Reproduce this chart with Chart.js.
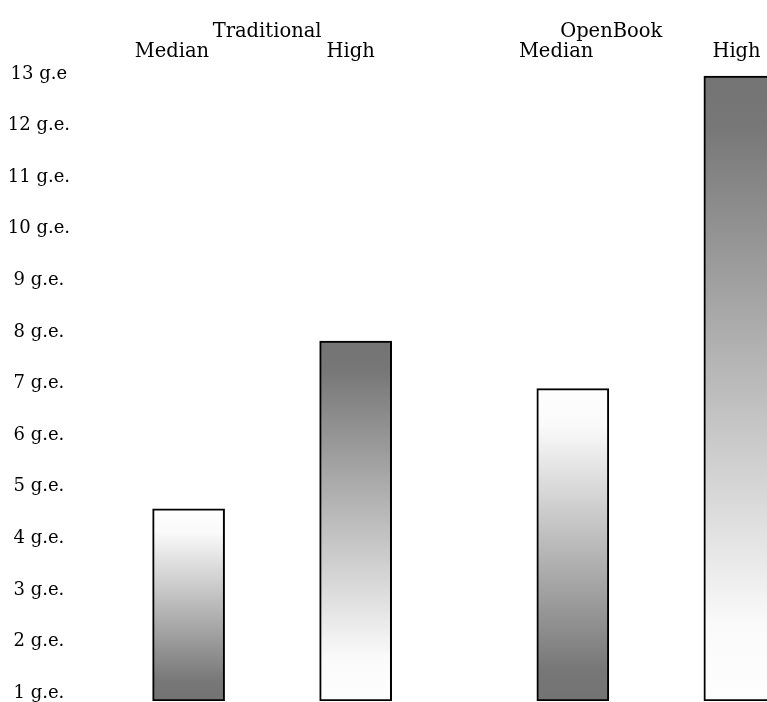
<!DOCTYPE html>
<html>
<head>
<meta charset="utf-8">
<title>Grade equivalents</title>
<script src="https://cdn.jsdelivr.net/npm/chart.js@4/dist/chart.umd.min.js"></script>
<style>
  html, body { margin: 0; padding: 0; background: #fff; overflow: hidden; }
  #wrap { width: 800px; height: 702px; }
</style>
</head>
<body>
<div id="wrap"><canvas id="geChart" width="800" height="702"></canvas></div>
<script>
const groups = ["Traditional", "OpenBook"];
const categories = ["Median", "High", "Median", "High"];
const gradeValues = [4.57, 7.82, 6.9, 12.96];
const tickLevels = [1, 2, 3, 4, 5, 6, 7, 8, 9, 10, 11, 12, 13];
const tickLabels = ["1 g.e.", "2 g.e.", "3 g.e.", "4 g.e.", "5 g.e.", "6 g.e.", "7 g.e.",
  "8 g.e.", "9 g.e.", "10 g.e.", "11 g.e.", "12 g.e.", "13 g.e"];

// layout: where things sit along the x scale (slot units)
const barSlots = [0, 1, 2.3, 3.3];
const categorySlots = [-0.1, 0.97, 2.2, 3.28];
const groupSlots = [0.47, 2.53];
const axisFloor = 0.845;
const axisCeil = 13.155;

const fontFamily = "'DejaVu Serif', serif";
const textColor = "#000";

const topTicks = [
  ...categories.map((name, i) => ({ value: categorySlots[i], label: ["", name] })),
  ...groups.map((name, i) => ({ value: groupSlots[i], label: [name, ""] }))
].sort((a, b) => a.value - b.value);

function barFill(context) {
  const chart = context.chart;
  if (!chart.chartArea || !chart.scales.y) {
    return "#999";
  }
  const yScale = chart.scales.y;
  const top = yScale.getPixelForValue(gradeValues[context.dataIndex]);
  const base = yScale.getPixelForValue(axisFloor);
  const gradient = chart.ctx.createLinearGradient(0, top, 0, base);
  if (categories[context.dataIndex] === "High") {
    gradient.addColorStop(0, "#747474");
    gradient.addColorStop(0.08, "#777777");
    gradient.addColorStop(0.88, "#fafafa");
    gradient.addColorStop(1, "#fefefe");
  } else {
    gradient.addColorStop(0, "#fefefe");
    gradient.addColorStop(0.12, "#fafafa");
    gradient.addColorStop(0.9, "#777777");
    gradient.addColorStop(1, "#737373");
  }
  return gradient;
}

function dropAxisPadding(axis) {
  axis.paddingTop = 0;
  axis.paddingBottom = 0;
  axis.paddingLeft = 0;
  axis.paddingRight = 0;
}

new Chart(document.getElementById("geChart"), {
  type: "bar",
  data: {
    datasets: [
      {
        data: gradeValues.map((v, i) => ({ x: barSlots[i], y: v })),
        base: axisFloor,
        backgroundColor: barFill,
        borderColor: "#000",
        borderWidth: 2,
        borderSkipped: false,
        barThickness: 72
      }
    ]
  },
  options: {
    responsive: false,
    animation: false,
    devicePixelRatio: 1,
    layout: { padding: { top: 0, left: 0, right: 0, bottom: 1 } },
    plugins: {
      legend: { display: false },
      tooltip: { enabled: false }
    },
    scales: {
      x: {
        type: "linear",
        position: "top",
        offset: false,
        min: -0.71,
        max: 3.66,
        grid: { display: false, drawTicks: false },
        border: { display: false },
        afterBuildTicks: (axis) => {
          axis.ticks = topTicks.map((t) => ({ value: t.value }));
        },
        afterFit: (axis) => {
          axis.height = 66;
          dropAxisPadding(axis);
        },
        ticks: {
          autoSkip: false,
          maxRotation: 0,
          padding: 4,
          color: textColor,
          font: { family: fontFamily, size: 19.5, lineHeight: "20px" },
          callback: (value, index) => topTicks[index].label
        }
      },
      y: {
        type: "linear",
        min: axisFloor,
        max: axisCeil,
        beginAtZero: false,
        grid: { display: false, drawTicks: false },
        border: { display: false },
        afterBuildTicks: (axis) => {
          axis.ticks = tickLevels.map((v) => ({ value: v }));
        },
        afterFit: (axis) => {
          axis.width = 70;
          dropAxisPadding(axis);
        },
        ticks: {
          crossAlign: "center",
          padding: 0,
          color: textColor,
          font: { family: fontFamily, size: 18 },
          callback: (value, index) => tickLabels[index]
        }
      }
    }
  }
});
</script>
</body>
</html>
